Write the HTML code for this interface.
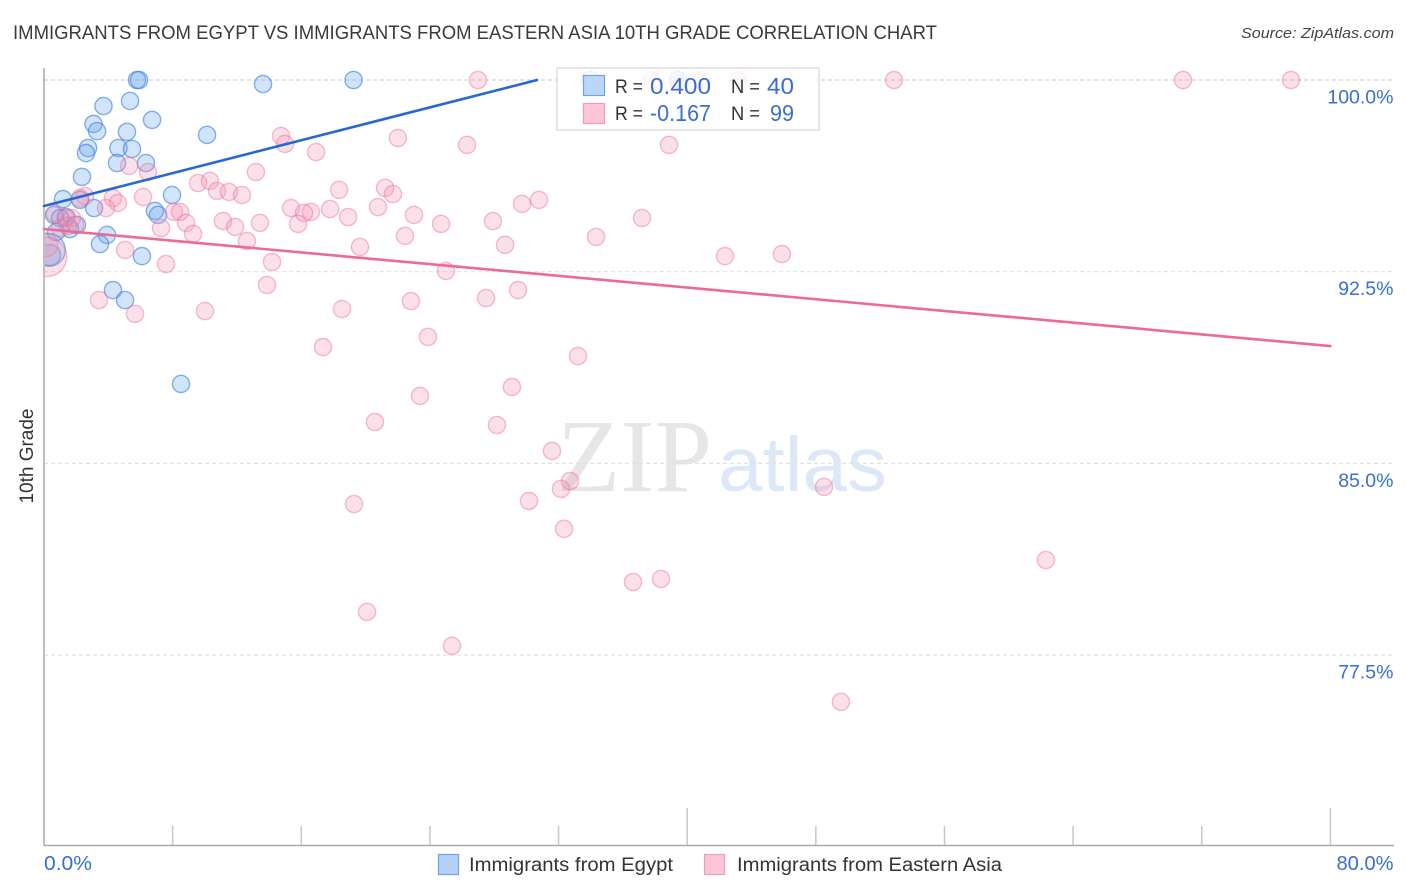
<!DOCTYPE html>
<html lang="en">
<head>
<meta charset="utf-8">
<title>Immigrants from Egypt vs Immigrants from Eastern Asia 10th Grade Correlation Chart</title>
<style>
html,body{margin:0;padding:0;background:#fff;width:1406px;height:892px;overflow:hidden}
svg{display:block;font-family:"Liberation Sans",sans-serif}
</style>
</head>
<body>
<svg id="chart" width="1406" height="892" viewBox="0 0 1406 892" xmlns="http://www.w3.org/2000/svg">
  <defs>
    <clipPath id="plot-clip"><rect x="45" y="60" width="1349" height="785"/></clipPath>
  </defs>
  <rect x="0" y="0" width="1406" height="892" fill="#ffffff"/>
  <text x="13" y="39" font-size="19" fill="#3a3a3a" textLength="924" lengthAdjust="spacingAndGlyphs">IMMIGRANTS FROM EGYPT VS IMMIGRANTS FROM EASTERN ASIA 10TH GRADE CORRELATION CHART</text>
  <text x="1394" y="38" font-size="15" font-style="italic" fill="#444444" text-anchor="end" textLength="153" lengthAdjust="spacingAndGlyphs">Source: ZipAtlas.com</text>
  <g>
    <text x="557" y="491" font-family="'Liberation Serif',serif" font-size="104" fill="#e6e6e6" textLength="155" lengthAdjust="spacingAndGlyphs">ZIP</text>
    <text x="718" y="491" font-size="77" fill="#dce8f8" textLength="169" lengthAdjust="spacingAndGlyphs">atlas</text>
  </g>
  <g id="grid"></g>
  <g id="axes"></g>
  <g clip-path="url(#plot-clip)">
    <g id="points-blue"></g>
    <g id="points-pink"></g>
  </g>
  <g id="trends"></g>
  <text transform="translate(33,456) rotate(-90)" font-size="19" fill="#333333" text-anchor="middle" textLength="95" lengthAdjust="spacingAndGlyphs">10th Grade</text>

  <g>
    <rect x="557" y="68" width="262" height="62" fill="#ffffff" fill-opacity="0.84" stroke="#dddddd" stroke-width="1.5"/>
    <rect x="583.5" y="75.5" width="21" height="20" fill="#b5d1f7" fill-opacity="0.9" stroke="#6fa3e6" stroke-width="1.2"/>
    <rect x="583.5" y="103.5" width="21" height="20" fill="#fcc6d8" stroke="#f09cb8" stroke-width="1.2"/>
    <text x="615" y="93" font-size="19" fill="#333333" textLength="28" lengthAdjust="spacingAndGlyphs">R =</text>
    <text x="711" y="94" font-size="23" fill="#3a6fd0" text-anchor="end" textLength="61" lengthAdjust="spacingAndGlyphs">0.400</text>
    <text x="731" y="93" font-size="19" fill="#333333" textLength="29" lengthAdjust="spacingAndGlyphs">N =</text>
    <text x="794" y="94" font-size="23" fill="#3a6fd0" text-anchor="end" textLength="27" lengthAdjust="spacingAndGlyphs">40</text>
    <text x="615" y="120" font-size="19" fill="#333333" textLength="28" lengthAdjust="spacingAndGlyphs">R =</text>
    <text x="711" y="121" font-size="23" fill="#3a6fd0" text-anchor="end" textLength="61" lengthAdjust="spacingAndGlyphs">-0.167</text>
    <text x="731" y="120" font-size="19" fill="#333333" textLength="29" lengthAdjust="spacingAndGlyphs">N =</text>
    <text x="794" y="121" font-size="23" fill="#3a6fd0" text-anchor="end" textLength="24" lengthAdjust="spacingAndGlyphs">99</text>
  </g>

  <g>
    <g>
      <rect x="438.5" y="854.5" width="20" height="20" fill="#b5d1f7" stroke="#6fa3e6" stroke-width="1.2"/>
      <text x="469" y="871" font-size="19" fill="#333333" textLength="204" lengthAdjust="spacingAndGlyphs">Immigrants from Egypt</text>
    </g>
    <g>
      <rect x="704.5" y="854.5" width="20" height="20" fill="#fcc6d8" stroke="#f09cb8" stroke-width="1.2"/>
      <text x="737" y="871" font-size="19" fill="#333333" textLength="265" lengthAdjust="spacingAndGlyphs">Immigrants from Eastern Asia</text>
    </g>
  </g>
</svg>
<script>
// ---- chart data (percent values) ----
const yGridValues = [100, 92.5, 85, 77.5];
const yTickLabels = ["100.0%", "92.5%", "85.0%", "77.5%"];
const xTickValues = [0, 8, 16, 24, 32, 40, 48, 56, 64, 72, 80];
const xMajorTicks = [40, 80];
const xEndValues = [0, 80];
const xEndLabels = ["0.0%", "80.0%"];

const egyptX = [5.78,5.91,13.62,19.25,33.96,39.43,3.70,5.35,3.08,3.30,6.72,5.16,10.14,2.74,2.61,4.63,5.47,4.54,6.34,2.36,7.96,1.18,3.11,2.24,6.90,7.09,0.62,1.37,1.00,2.05,1.62,0.75,3.92,3.48,6.09,4.29,5.04,8.52,0.37,0.31];
const egyptY = [100,100,99.84,100,100,100,98.98,99.18,98.28,98.00,98.44,97.97,97.85,97.34,97.14,97.34,97.30,96.75,96.75,96.21,95.50,95.34,94.99,95.31,94.88,94.72,94.72,94.64,94.60,94.33,94.17,94.05,93.94,93.58,93.11,91.78,91.39,88.11,93.15,93.35];
const egyptWeight = [1,1,1,1,1,1,1,1,1,1,1,1,1,1,1,1,1,1,1,1,1,1,1,1,1,1,1,1,1,1,1,1,1,1,1,1,1,1,1.5,3.6];

const asiaX = [26.99,37.81,40.92,43.16,52.86,70.83,77.55,39.43,14.74,14.99,22.01,26.31,38.87,16.92,13.18,5.29,6.47,9.58,10.32,10.76,11.50,12.31,6.16,18.35,21.21,21.70,30.78,29.73,4.29,4.60,2.55,2.24,3.86,8.08,8.46,15.36,20.77,17.79,16.60,16.17,23.01,37.19,18.91,27.92,24.69,11.13,13.43,8.83,15.80,11.88,7.28,9.27,22.45,34.33,12.62,19.65,28.67,5.04,42.35,45.89,14.18,7.59,25.00,13.87,29.48,3.42,27.49,22.82,5.66,10.01,18.53,23.88,17.35,33.21,29.10,23.38,20.58,28.17,31.59,32.71,32.15,30.16,48.51,19.28,32.34,62.31,38.37,36.63,20.09,25.37,49.56,0.68,1.37,1.74,1.00,1.49,1.93,0.12,0.19];
const asiaY = [100,100,100,100,100,100,100,99.84,97.81,97.50,97.73,97.46,97.46,97.18,96.40,96.64,96.40,95.97,96.05,95.66,95.62,95.50,95.42,95.70,95.78,95.54,95.31,95.15,95.38,95.19,95.46,95.38,94.99,94.84,94.84,94.99,95.03,94.95,94.84,94.80,94.72,94.60,94.64,94.48,94.37,94.48,94.41,94.41,94.37,94.25,94.21,93.98,93.90,93.86,93.70,93.47,93.55,93.35,93.11,93.19,92.88,92.80,92.53,91.98,91.78,91.39,91.47,91.35,90.85,90.96,91.04,89.95,89.55,89.20,87.99,87.64,86.62,86.50,85.49,84.31,84.00,83.53,84.08,83.41,82.44,81.22,80.48,80.36,79.19,77.86,75.67,94.76,94.60,94.60,94.21,94.29,94.33,93.55,93.08];
const asiaWeight = [1,1,1,1,1,1,1,1,1,1,1,1,1,1,1,1,1,1,1,1,1,1,1,1,1,1,1,1,1,1,1,1,1,1,1,1,1,1,1,1,1,1,1,1,1,1,1,1,1,1,1,1,1,1,1,1,1,1,1,1,1,1,1,1,1,1,1,1,1,1,1,1,1,1,1,1,1,1,1,1,1,1,1,1,1,1,1,1,1,1,1,1,1,1,1,1,1,1.9,5.2];

const egyptTrendX = [0, 30.66];
const egyptTrendY = [95.07, 100];
const asiaTrendX = [0, 80];
const asiaTrendY = [94.17, 89.59];

// ---- axis functions ----
function xScale(v) { return 44 + v * 16.08; }
function yScale(v) { return 80 + (100 - v) * 25.56; }
function radius(w) { return 8.6 * Math.sqrt(w); }

const NS = 'http://www.w3.org/2000/svg';
function make(tag, parent, props) {
  const el = document.createElementNS(NS, tag);
  for (const k in props) el.setAttribute(k, props[k]);
  parent.appendChild(el);
  return el;
}

const grid = document.getElementById('grid');
const axes = document.getElementById('axes');
const pointsBlue = document.getElementById('points-blue');
const pointsPink = document.getElementById('points-pink');
const trends = document.getElementById('trends');

// gridlines and y tick labels
yGridValues.forEach(function (v, i) {
  const line = make('line', grid, {x1: 44, x2: 1394, y1: yScale(v), y2: yScale(v), stroke: i === 0 ? '#d4d4d4' : '#e2e2e2', 'stroke-width': 1.2, 'stroke-dasharray': '4 3'});
  
  
  const label = make('text', axes, {x: 1393.5, y: yScale(v) + 23.5, 'font-size': 19.5, fill: '#3a6fd0', 'text-anchor': 'end'});
  label.textContent = yTickLabels[i];
  
  
});

// axis lines
const yAxisLine = make('line', axes, {x1: 44, x2: 44, y1: 68, y2: 846, stroke: '#aaaaaa', 'stroke-width': 1.5});


const xAxisLine = make('line', axes, {x1: 44, x2: 1394, y1: 845.5, y2: 845.5, stroke: '#aaaaaa', 'stroke-width': 1.5});



// x ticks
xTickValues.forEach(function (v) {
  if (v === 0) return;
  const top = xMajorTicks.indexOf(v) >= 0 ? 808 : 826;
  const tick = make('line', axes, {x1: xScale(v), x2: xScale(v), y1: top, y2: 845, stroke: '#c8c8c8', 'stroke-width': 1.5});
  
  
});

// x end labels
xEndValues.forEach(function (v, i) {
  const label = make('text', axes, {x: i === 0 ? xScale(v) : 1393.5, y: 870, 'font-size': 20, fill: '#3a6fd0', 'text-anchor': i === 0 ? 'start' : 'end', textLength: i === 0 ? 48 : 57, lengthAdjust: 'spacingAndGlyphs'});
  label.textContent = xEndLabels[i];
  
  
});

// points
egyptX.forEach(function (v, i) {
  const c = make('circle', pointsBlue, {cx: xScale(v), cy: yScale(egyptY[i]), r: radius(egyptWeight[i]), fill: '#6ba6ee', 'fill-opacity': 0.3, stroke: '#3f83db', 'stroke-opacity': 0.62, 'stroke-width': 1.4});
  
  
});
asiaX.forEach(function (v, i) {
  const c = make('circle', pointsPink, {cx: xScale(v), cy: yScale(asiaY[i]), r: radius(asiaWeight[i]), fill: '#f48fb1', 'fill-opacity': 0.28, stroke: '#e86f98', 'stroke-opacity': 0.45, 'stroke-width': 1.4});
  
  
});

// trend lines
const egyptTrend = make('line', trends, {x1: xScale(egyptTrendX[0]), y1: yScale(egyptTrendY[0]), x2: xScale(egyptTrendX[1]), y2: yScale(egyptTrendY[1]), stroke: '#2468d8', 'stroke-width': 2.6, 'stroke-linecap': 'round'});


const asiaTrend = make('line', trends, {x1: xScale(asiaTrendX[0]), y1: yScale(asiaTrendY[0]), x2: xScale(asiaTrendX[1]), y2: yScale(asiaTrendY[1]), stroke: '#ec6a9a', 'stroke-width': 2.6, 'stroke-linecap': 'round'});


</script>
</body>
</html>
